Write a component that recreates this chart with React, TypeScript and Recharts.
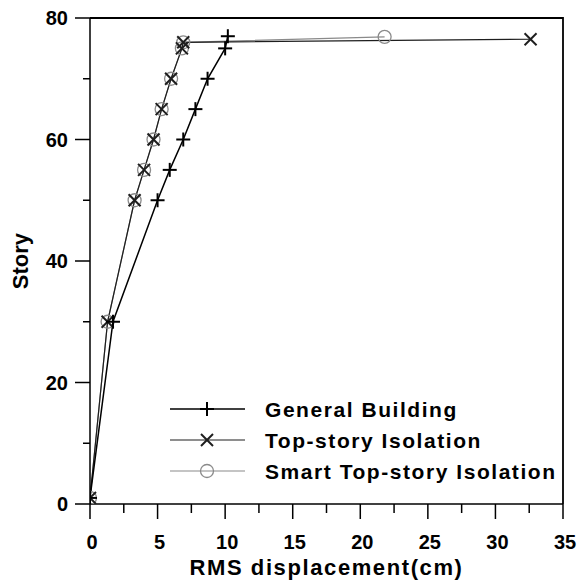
import React from 'react';
import { LineChart, Line, XAxis, YAxis, Legend } from 'recharts';

// ---- data ----
const seriesNames = ['General Building', 'Top-story Isolation', 'Smart Top-story Isolation'];

const generalX = [0, 1.7, 5.0, 5.9, 6.9, 7.8, 8.7, 10.0, 10.2];
const generalY = [1, 30, 50, 55, 60, 65, 70, 75, 77];

const topX = [0, 1.3, 3.3, 4.0, 4.7, 5.3, 6.0, 6.8, 6.9, 32.6];
const topY = [1, 30, 50, 55, 60, 65, 70, 75, 76, 76.5];

const smartX = [0, 1.3, 3.3, 4.0, 4.7, 5.3, 6.0, 6.8, 6.9, 21.8];
const smartY = [1, 30, 50, 55, 60, 65, 70, 75, 76, 76.9];

const xTicks = [0, 2.5, 5, 7.5, 10, 12.5, 15, 17.5, 20, 22.5, 25, 27.5, 30, 32.5, 35];
const yTicks = [0, 10, 20, 30, 40, 50, 60, 70, 80];
const xMax = 35;
const yMax = 80;

const toRows = (xs: number[], ys: number[]) => xs.map((x, i) => ({ x, y: ys[i] }));
const generalData = toRows(generalX, generalY);
const topData = toRows(topX, topY);
const smartData = toRows(smartX, smartY);

// ---- layout ----
const CHART_W = 581;
const CHART_H = 587;
const MARGIN = { top: 18, right: 18, left: 0, bottom: 0 };
const Y_AXIS_W = 90;
const X_AXIS_H = 83;
const PLOT = {
  left: MARGIN.left + Y_AXIS_W,
  right: CHART_W - MARGIN.right,
  top: MARGIN.top,
  bottom: CHART_H - MARGIN.bottom - X_AXIS_H,
};
const LEGEND_POS = { x: 160, y: 390 };

// ---- styles ----
const FONT = '"Liberation Sans", Arial, Helvetica, sans-serif';
const C_GEN = '#000000';
const C_TOP = '#1e1e1e';
const C_SMART = '#8a8a8a';

const PlusMark = ({ cx, cy, color, s = 7 }: any) => (
  <g>
    <line x1={cx - s} x2={cx + s} y1={cy} y2={cy} stroke={color} strokeWidth={2} />
    <line x1={cx} x2={cx} y1={cy - s} y2={cy + s} stroke={color} strokeWidth={2} />
  </g>
);
const CrossMark = ({ cx, cy, color, s = 6 }: any) => (
  <g>
    <line x1={cx - s} x2={cx + s} y1={cy - s} y2={cy + s} stroke={color} strokeWidth={2} />
    <line x1={cx - s} x2={cx + s} y1={cy + s} y2={cy - s} stroke={color} strokeWidth={2} />
  </g>
);
const CircleMark = ({ cx, cy, color, r = 6.5 }: any) => (
  <circle cx={cx} cy={cy} r={r} fill="none" stroke={color} strokeWidth={1.3} />
);

const genDot = (p: any) => <PlusMark key={`g${p.index}`} cx={p.cx} cy={p.cy} color={C_GEN} />;
const topDot = (p: any) => <CrossMark key={`t${p.index}`} cx={p.cx} cy={p.cy} color={C_TOP} />;
const smartDot = (p: any) => <CircleMark key={`s${p.index}`} cx={p.cx} cy={p.cy} color={C_SMART} />;

const YTick = (props: any) => {
  const { x, y, payload } = props;
  const v = payload.value;
  const major = v % 20 === 0;
  return (
    <g>
      <line x1={x} x2={x - (major ? 15 : 7)} y1={y} y2={y} stroke="#000" strokeWidth={1.5} />
      {major && (
        <text x={x - 22} y={y + 7} textAnchor="end" fontFamily={FONT} fontWeight="bold" fontSize={20} fill="#000">
          {v}
        </text>
      )}
    </g>
  );
};

const XTick = (props: any) => {
  const { x, y, payload } = props;
  const v = payload.value;
  const major = v % 5 === 0;
  return (
    <g>
      <line x1={x} x2={x} y1={y} y2={y + (major ? 15 : 9)} stroke="#000" strokeWidth={1.5} />
      {major && (
        <text x={x + 2} y={y + 45} textAnchor="middle" fontFamily={FONT} fontWeight="bold" fontSize={20} fill="#000">
          {v}
        </text>
      )}
    </g>
  );
};

const XLabel = (props: any) => {
  const vb = props.viewBox || {};
  const cx = vb.x + vb.width / 2;
  return (
    <text x={cx} y={vb.y + 71} textAnchor="middle" fontFamily={FONT} fontWeight="bold" fontSize={22} letterSpacing={1.6} fill="#000">
      RMS displacement(cm)
    </text>
  );
};

const YLabel = (props: any) => {
  const vb = props.viewBox || {};
  const cy = vb.y + vb.height / 2;
  const bx = 28;
  return (
    <text x={bx} y={cy} transform={`rotate(-90, ${bx}, ${cy})`} textAnchor="middle" fontFamily={FONT} fontWeight="bold" fontSize={22} fill="#000">
      Story
    </text>
  );
};

// overlay: plot frame (top and right borders) and the legend rows
const Overlay = () => {
  const rows = [
    { name: seriesNames[0], color: C_GEN, w: 1.5, mark: (cx: number, cy: number) => <PlusMark cx={cx} cy={cy} color={C_GEN} /> },
    { name: seriesNames[1], color: C_TOP, w: 1.2, mark: (cx: number, cy: number) => <CrossMark cx={cx} cy={cy} color={C_TOP} /> },
    { name: seriesNames[2], color: C_SMART, w: 1.2, mark: (cx: number, cy: number) => <CircleMark cx={cx} cy={cy} color={C_SMART} /> },
  ];
  return (
    <svg width={CHART_W} height={CHART_H} style={{ display: 'block', pointerEvents: 'none' }}>
      <path
        d={`M${PLOT.left},${PLOT.top} L${PLOT.right},${PLOT.top} L${PLOT.right},${PLOT.bottom}`}
        fill="none"
        stroke="#000"
        strokeWidth={1.8}
      />
      <g transform={`translate(${LEGEND_POS.x}, ${LEGEND_POS.y})`}>
        {rows.map((r, i) => {
          const cy = 19 + i * 31;
          return (
            <g key={r.name}>
              <line x1={10} x2={85} y1={cy} y2={cy} stroke={r.color} strokeWidth={r.w} />
              {r.mark(47, cy)}
              <text x={105} y={cy + 7.5} fontFamily={FONT} fontWeight="bold" fontSize={21} letterSpacing={1.55} fill="#000">
                {r.name}
              </text>
            </g>
          );
        })}
      </g>
    </svg>
  );
};

export default function App() {
  return (
    <div style={{ position: 'absolute', left: 0, top: 0, width: CHART_W, height: CHART_H, background: '#fff' }}>
      <LineChart width={CHART_W} height={CHART_H} margin={MARGIN}>
        <XAxis
          dataKey="x"
          type="number"
          domain={[0, xMax]}
          ticks={xTicks}
          interval={0}
          allowDataOverflow
          height={X_AXIS_H}
          tickSize={0}
          tickMargin={0}
          tickLine={false}
          axisLine={{ stroke: '#000', strokeWidth: 1.5 }}
          tick={<XTick />}
          label={XLabel}
        />
        <YAxis
          dataKey="y"
          type="number"
          domain={[0, yMax]}
          ticks={yTicks}
          interval={0}
          allowDataOverflow
          width={Y_AXIS_W}
          tickSize={0}
          tickMargin={0}
          tickLine={false}
          axisLine={{ stroke: '#000', strokeWidth: 1.5 }}
          tick={<YTick />}
          label={YLabel}
        />
        <Line data={smartData} dataKey="y" name={seriesNames[2]} stroke={C_SMART} strokeWidth={1.2} dot={smartDot} isAnimationActive={false} />
        <Line data={topData} dataKey="y" name={seriesNames[1]} stroke={C_TOP} strokeWidth={1.2} dot={topDot} isAnimationActive={false} />
        <Line data={generalData} dataKey="y" name={seriesNames[0]} stroke={C_GEN} strokeWidth={1.5} dot={genDot} isAnimationActive={false} />
        <Legend
          layout="vertical"
          align="center"
          verticalAlign="middle"
          content={() => <Overlay />}
          wrapperStyle={{ left: 0, top: 0, width: CHART_W, height: CHART_H, pointerEvents: 'none' }}
        />
      </LineChart>
    </div>
  );
}
